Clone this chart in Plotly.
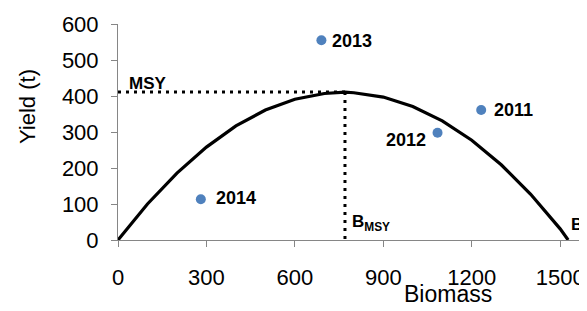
import plotly.graph_objects as go

# Surplus-production curve
curve_biomass = [0, 100, 200, 300, 400, 500, 600, 700, 770, 800, 900, 1000, 1100, 1200, 1300, 1400, 1500, 1527]
curve_yield = [0, 100, 186, 258, 317, 361, 391, 407, 411, 409, 397, 371, 331, 277, 209, 127, 31, 0]

# Observed years
years = ["2011", "2012", "2013", "2014"]
obs_biomass = [1232, 1084, 690, 281]
obs_yield = [361, 298, 555, 113]

msy_value = 411
bmsy_value = 770
b0_value = 1527

x_ticks = [0, 300, 600, 900, 1200, 1500]
y_ticks = [0, 100, 200, 300, 400, 500, 600]

# page has an 8px body margin; figure sized so that it fills the 587x311 window
W, H = 579, 303
ML, MR, MT, MB = 110, 0, 16, 71
PW, PH = W - ML - MR, H - MT - MB

fig = go.Figure()

fig.add_trace(go.Scatter(x=curve_biomass, y=curve_yield, mode="lines",
                         line=dict(color="black", width=3.2), hoverinfo="skip"))
fig.add_trace(go.Scatter(x=[0, bmsy_value], y=[msy_value, msy_value], mode="lines",
                         line=dict(color="black", width=3, dash="3px,5px"), hoverinfo="skip"))
fig.add_trace(go.Scatter(x=[bmsy_value, bmsy_value], y=[msy_value, 0], mode="lines",
                         line=dict(color="black", width=3, dash="3px,5px"), hoverinfo="skip"))
fig.add_trace(go.Scatter(x=obs_biomass, y=obs_yield, mode="markers",
                         marker=dict(color="#4F81BD", size=10), hoverinfo="skip"))

FONT = "Liberation Sans, Arial"
label_font = dict(family=FONT, size=18, color="black")
shifts = {"2011": ("left", 11, 0), "2012": ("right", -10, -7),
          "2013": ("left", 9, -1), "2014": ("left", 13, 1)}
for yr, bx, yy in zip(years, obs_biomass, obs_yield):
    anc, xs, ys = shifts[yr]
    fig.add_annotation(x=bx, y=yy, xref="x", yref="y", text="<b>%s</b>" % yr,
                       showarrow=False, xanchor=anc, yanchor="middle",
                       xshift=xs, yshift=ys, font=label_font)

fig.add_annotation(x=30, y=msy_value, xref="x", yref="y", text="<b>MSY</b>",
                   showarrow=False, xanchor="left", yanchor="bottom", yshift=-3,
                   font=dict(family=FONT, size=17, color="black"))
fig.add_annotation(x=bmsy_value, y=0, xref="x", yref="y",
                   text="<b>B<sub>MSY</sub></b>",
                   showarrow=False, xanchor="left", yanchor="bottom", xshift=5, yshift=4,
                   font=dict(family=FONT, size=17, color="black"))
fig.add_annotation(x=b0_value, y=0, xref="x", yref="y",
                   text="<b>B<sub>0</sub></b>",
                   showarrow=False, xanchor="left", yanchor="bottom", xshift=1, yshift=1,
                   font=dict(family=FONT, size=17, color="black"))

# Axis titles (positioned in pixels of the reference, minus the 8px page offset)
fig.add_annotation(xref="paper", yref="paper", x=(440 - ML) / PW, y=(H - MB - 286) / PH,
                   xanchor="center", yanchor="middle", text="Biomass", showarrow=False,
                   font=dict(family=FONT, size=23, color="black"))
fig.add_annotation(xref="paper", yref="paper", x=(19 - ML) / PW, y=(H - MB - 99) / PH,
                   xanchor="center", yanchor="middle", text="Yield (t)", textangle=-90,
                   showarrow=False, font=dict(family=FONT, size=22, color="black"))

fig.update_layout(
    width=W, height=H,
    margin=dict(l=ML, r=MR, t=MT, b=MB, autoexpand=False),
    paper_bgcolor="white", plot_bgcolor="white",
    showlegend=False,
    font=dict(family=FONT, color="black"),
)

fig.update_xaxes(range=[0, 1591], tickvals=x_ticks, ticktext=[str(v) for v in x_ticks],
                 showgrid=False, zeroline=False, showline=True, linecolor="#868686", linewidth=1,
                 ticks="outside", ticklen=6, tickcolor="#868686",
                 tickfont=dict(size=22, color="black"), ticklabelstandoff=12)
fig.update_yaxes(range=[0, 600], tickvals=y_ticks, showgrid=False, zeroline=False,
                 showline=True, linecolor="#868686", linewidth=1,
                 ticks="outside", ticklen=6, tickcolor="#868686",
                 tickfont=dict(size=22, color="black"), ticklabelstandoff=8)

fig.write_html("out.html")
